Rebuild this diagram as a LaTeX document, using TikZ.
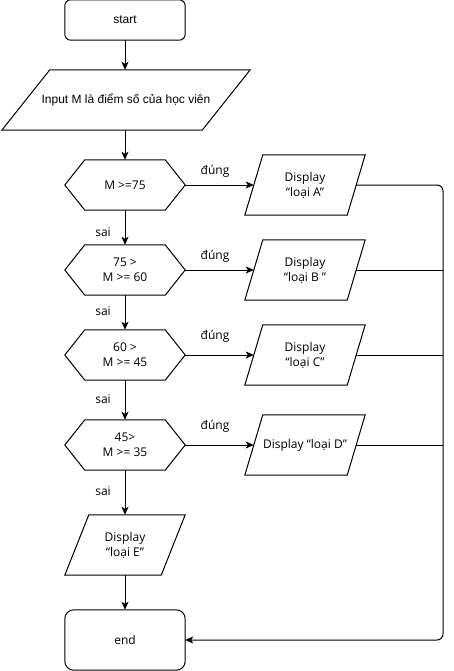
\documentclass[tikz,border=0pt]{standalone}
\usepackage{fontspec}
\setmainfont{Open Sans}
\newfontfamily\arialfont{Liberation Sans}
\usetikzlibrary{arrows.meta}
\begin{document}
\begin{tikzpicture}[x=1pt,y=-1pt,
  every node/.style={font=\fontsize{12}{15}\selectfont, text=black, inner sep=0pt},
  box/.style={minimum width=120, minimum height=#1, align=center},
  box/.default=60,
  outline/.style={draw=black, line width=1pt, line join=miter},
  flow/.style={draw=black, line width=1pt, -{Stealth[length=8pt,width=7pt,inset=2pt]}},
  plain/.style={draw=black, line width=1pt},
  lbl/.style={font=\fontsize{12}{14}\selectfont}]
\useasboundingbox (0,0) rectangle (454,671);

% terminals
\node[box=40, font=\arialfont\fontsize{12}{14}\selectfont] (start) at (125,20) {start};
\draw[outline, rounded corners=6] (start.north west) rectangle (start.south east);
\node[box] (stop) at (125,640) {end};
\draw[outline, rounded corners=9] (stop.north west) rectangle (stop.south east);

% input
\node[minimum width=248, minimum height=60, font=\arialfont\fontsize{12}{14}\selectfont] (input) at (126,100) {Input M là điểm số của học viên};
\draw[outline] ([xshift=48]input.north west) -- (input.north east)
  -- ([xshift=-48]input.south east) -- (input.south west) -- cycle;

% decisions (hexagons)
\node[box=50] (d1) at (125,185) {M >=75};
\node[box=50] (d2) at (125,270) {75 >\\M >= 60};
\node[box=50] (d3) at (125,355) {60 >\\M >= 45};
\node[box=50] (d4) at (125,445) {45>\\M >= 35};
\foreach \d in {d1,d2,d3,d4}{
  \draw[outline] (\d.west) -- ([xshift=20]\d.north west) -- ([xshift=-20]\d.north east)
    -- (\d.east) -- ([xshift=-20]\d.south east) -- ([xshift=20]\d.south west) -- cycle;
}

% outputs (parallelograms)
\node[box] (pA) at (305,185) {Display\\“loại A”};
\node[box] (pB) at (305,270) {Display\\“loại B ”};
\node[box] (pC) at (305,355) {Display\\“loại C”};
\node[box] (pD) at (305,445) {Display “loại D”};
\foreach \p in {pA,pB,pC,pD}{
  \draw[outline] ([xshift=18]\p.north west) -- (\p.north east)
    -- ([xshift=-18]\p.south east) -- (\p.south west) -- cycle;
}
\node[box] (pE) at (125,545) {Display\\“loại E”};
\draw[outline] ([xshift=24]pE.north west) -- (pE.north east)
  -- ([xshift=-24]pE.south east) -- (pE.south west) -- cycle;

% main flow
\draw[flow] (start.south) -- (input.north -| start.south);
\draw[flow] (input.south -| start.south) -- (d1.north);
\draw[flow] (d1.south) -- (d2.north);
\draw[flow] (d2.south) -- (d3.north);
\draw[flow] (d3.south) -- (d4.north);
\draw[flow] (d4.south) -- (pE.north);
\draw[flow] (pE.south) -- (stop.north);

% true branches
\draw[flow] (d1.east) -- ([xshift=9]pA.west);
\draw[flow] (d2.east) -- ([xshift=9]pB.west);
\draw[flow] (d3.east) -- ([xshift=9]pC.west);
\draw[flow] (d4.east) -- ([xshift=9]pD.west);

% collector rail to end
\coordinate (rail) at (443,0);
\draw[flow, rounded corners=6] ([xshift=-9]pA.east) -- (pA.east -| rail)
  -- (stop.east -| rail) -- (stop.east);
\draw[plain] ([xshift=-9]pB.east) -- (pB.east -| rail);
\draw[plain] ([xshift=-9]pC.east) -- (pC.east -| rail);
\draw[plain] ([xshift=-9]pD.east) -- (pD.east -| rail);

% branch labels
\node[lbl] (t1) at (215,171) {đúng};
\node[lbl] (t2) at (215,256) {đúng};
\node[lbl] (t3) at (215,336) {đúng};
\node[lbl] (t4) at (215,426) {đúng};
\node[lbl] (f1) at (103,232) {sai};
\node[lbl] (f2) at (103,311) {sai};
\node[lbl] (f3) at (103,399) {sai};
\node[lbl] (f4) at (103,491) {sai};
\end{tikzpicture}
\end{document}
